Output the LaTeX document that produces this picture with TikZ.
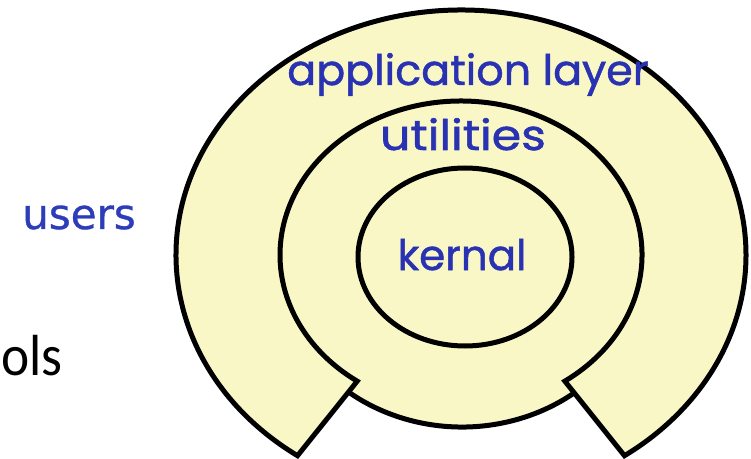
\documentclass[tikz,border=0pt]{standalone}
\usepackage{fontspec}
\usetikzlibrary{calc}
\newfontfamily\layerfont{Poppins}[FakeBold=1.2]
\newfontfamily\userfont{DejaVu Sans}[FakeBold=0.8]
\newfontfamily\bodyfont{Carlito}
\definecolor{layerfill}{RGB}{250,247,198}
\definecolor{layerink}{RGB}{40,50,178}
\definecolor{userink}{RGB}{45,60,185}

\tikzset{
  ring/.style={fill=layerfill, draw=black, line width=5pt, line join=miter},
  rim/.style={draw=black, line width=5pt},
  layerlabel/.style={text=layerink, inner sep=0pt, anchor=base,
                     font=\layerfont\fontsize{42}{42}\selectfont},
}

\begin{document}
\begin{tikzpicture}[x=1pt,y=1pt]
\useasboundingbox (0,0) rectangle (751,458);

% utilities layer: filled body, outline only where it shows below the ring
\fill[layerfill] (462,193.5) ellipse [x radius=183, y radius=162.5];
\fill[layerfill] (461,203) ellipse [x radius=181, y radius=154];
\draw[rim] (462,193.5) ++(200:183 and 162.5)
  arc[start angle=200, end angle=340, x radius=183, y radius=162.5];

% application ring: elliptic annulus with a sector cut out at the bottom
\coordinate (C) at (461,203);
\coordinate (P1) at ($(C)+(235:285 and 245)$);
\coordinate (Q2) at ($(C)+(-55:181 and 154)$);
\path[ring] (P1)
  arc[start angle=235, end angle=-55, x radius=285, y radius=245]
  -- (Q2)
  arc[start angle=-55, end angle=235, x radius=181, y radius=154]
  -- cycle;

% kernel
\path[ring] (465,201) ellipse [x radius=107, y radius=89];

% labels
\node[layerlabel] (app) at (468,373) {\scalebox{1.02}[1]{application layer}};
\node[layerlabel] (util) at (463,308) {\scalebox{1.13}[1]{utilities}};
\node[layerlabel] (kern) at (462,188) {kernal};
\node[text=userink, inner sep=0pt, anchor=base,
      font=\userfont\fontsize{42}{42}\selectfont] (users) at (79,229) {users};
\node[text=black, inner sep=0pt, anchor=base east,
      font=\bodyfont\fontsize{58}{58}\selectfont] (tools) at (63,83)
      {\scalebox{0.92}[1]{ols}};
\end{tikzpicture}
\end{document}
